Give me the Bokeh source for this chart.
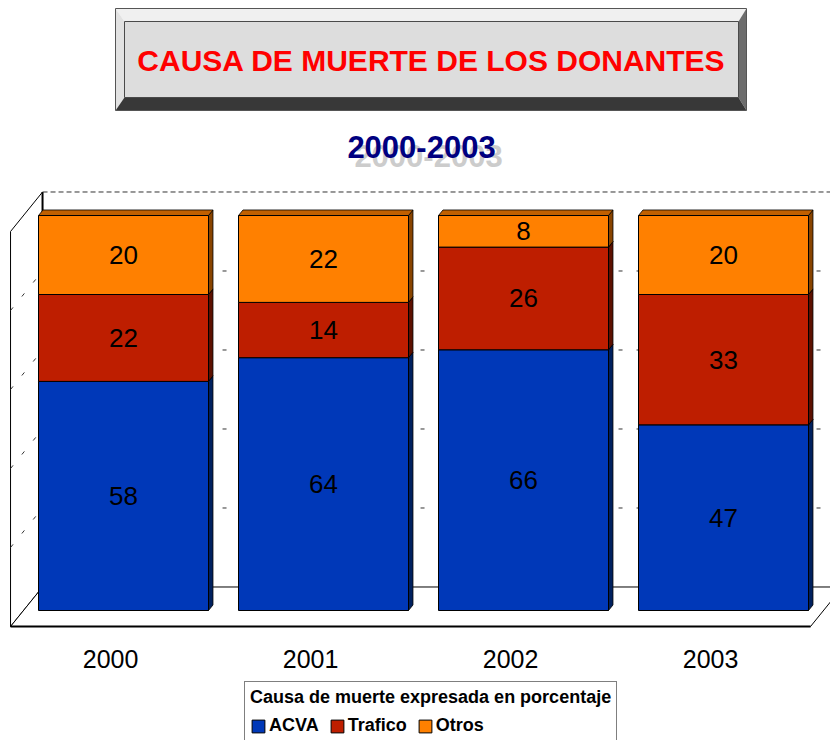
from bokeh.plotting import figure
from bokeh.models import Range1d, Legend, LegendItem
from bokeh.core.properties import value
from bokeh.embed import file_html
from bokeh.resources import INLINE

# ---------------- data ----------------
years = [2000, 2001, 2002, 2003]
year_labels = ["2000", "2001", "2002", "2003"]
acva = [58, 64, 66, 47]
trafico = [22, 14, 26, 33]
otros = [20, 22, 8, 20]
series_names = ["ACVA", "Trafico", "Otros"]
gridlines = [20, 40, 60, 80]
y_max = 100
title_text = "CAUSA DE MUERTE DE LOS DONANTES"
subtitle_text = "2000-2003"
legend_title = "Causa de muerte expresada en porcentaje"

# ---------------- geometry / style ----------------
W, H = 830, 740
PX_X = 200.0          # pixels per year
PX_Y = 3.95           # pixels per percent
XL = years[0] - 123.0 / PX_X     # data x at canvas left
YT = 610.0 / PX_Y                # data y at canvas top
ZREF = 0.405                     # depth of bar front plane
BD = 0.14                        # bar depth
DX, DY = 32.0, 39.5              # full depth vector (px)
BAR_W = 0.85

front_cols = ["#0038B8", "#BE1E00", "#FF8000"]
side_cols = ["#00205E", "#5C1000", "#884400"]
top_cols = ["#002C90", "#8C1600", "#C06000"]
FONT = "Liberation Sans"


def fx(px):
    return XL + px / PX_X


def fy(py):
    return YT - py / PX_Y


def proj(x, y, z):
    return x + (z - ZREF) * DX / PX_X, y + (z - ZREF) * DY / PX_Y


def poly(pts):
    return [q[0] for q in pts], [q[1] for q in pts]


p = figure(width=W, height=H,
           x_range=Range1d(XL, XL + W / PX_X), y_range=Range1d(YT - H / PX_Y, YT),
           min_border=0, min_border_left=0, min_border_right=0,
           min_border_top=0, min_border_bottom=0,
           toolbar_location=None, output_backend="svg",
           x_axis_type=None, y_axis_type=None,
           outline_line_color=None, background_fill_color="white",
           border_fill_color="white")

XA = years[0] - 0.5
XB = years[-1] + 0.5

# side wall
xs, ys = poly([proj(XA, 0, 0), proj(XA, y_max, 0), proj(XA, y_max, 1), proj(XA, 0, 1)])
p.patch(xs, ys, fill_color="white", line_color="black", line_width=1)
# back wall
xs, ys = poly([proj(XA, 0, 1), proj(XA, y_max, 1), proj(XB, y_max, 1), proj(XB, 0, 1)])
p.patch(xs, ys, fill_color="white", line_color=None)
xs, ys = poly([proj(XA, 0, 1), proj(XA, y_max, 1)])
p.line(xs, ys, line_color="black", line_width=2)
xs, ys = poly([proj(XA, y_max, 1), proj(XB, y_max, 1)])
p.line(xs, ys, line_color="#333333", line_width=1, line_dash="5 3")
# floor
xs, ys = poly([proj(XA, 0, 0), proj(XB, 0, 0), proj(XB, 0, 1), proj(XA, 0, 1)])
p.patch(xs, ys, fill_color="white", line_color="black", line_width=1)
xs, ys = poly([proj(XA, 0, 0), proj(XB, 0, 0)])
p.line(xs, ys, line_color="black", line_width=2)

# gridlines (back wall + side wall)
gx, gy = [], []
for g in gridlines:
    a, b = poly([proj(XA, g, 1), proj(XB, g, 1)])
    gx.append(a); gy.append(b)
    a, b = poly([proj(XA, g, 0), proj(XA, g, 1)])
    gx.append(a); gy.append(b)
p.multi_line(gx, gy, line_color="#333333", line_width=1, line_dash="4 14")

# stacked bars
series = [acva, trafico, otros]
bottoms = []
tops = []
acc = [0] * len(years)
for s in series:
    bottoms.append(list(acc))
    acc = [a + v for a, v in zip(acc, s)]
    tops.append(list(acc))

for i in range(len(series)):
    sx, sy, tx, ty = [], [], [], []
    for j, yr in enumerate(years):
        xl, xr = yr - BAR_W / 2, yr + BAR_W / 2
        b, t = bottoms[i][j], tops[i][j]
        a, c = poly([proj(xr, b, ZREF), proj(xr, b, ZREF + BD), proj(xr, t, ZREF + BD), proj(xr, t, ZREF)])
        sx.append(a); sy.append(c)
        a, c = poly([proj(xl, t, ZREF), proj(xr, t, ZREF), proj(xr, t, ZREF + BD), proj(xl, t, ZREF + BD)])
        tx.append(a); ty.append(c)
    p.patches(sx, sy, fill_color=side_cols[i], line_color="black", line_width=0.8)
    p.patches(tx, ty, fill_color=top_cols[i], line_color="black", line_width=0.8)

renderers = []
for i in range(len(series)):
    r = p.vbar(x=years, bottom=bottoms[i], top=tops[i], width=BAR_W,
               fill_color=front_cols[i], line_color="black", line_width=1)
    renderers.append(r)

# value labels
for i, s in enumerate(series):
    mids = [(b + t) / 2 for b, t in zip(bottoms[i], tops[i])]
    p.text(x=years, y=mids, text=[str(v) for v in s],
           text_align="center", text_baseline="middle",
           text_font=value(FONT), text_font_size="26px", text_color="black")

# category labels
cat_x = [proj(yr, 0, 0)[0] for yr in years]
cat_y = [proj(yr, 0, 0)[1] - 33 / PX_Y for yr in years]
p.text(x=cat_x, y=cat_y, text=year_labels, text_align="center", text_baseline="middle",
       text_font=value(FONT), text_font_size="25px", text_color="black")

# title box (bevelled)
OL, OT, OR, OB = 115, 8, 746, 110
IL, IT, IR, IB = 124, 21, 738, 97
bevels = [
    ([OL, OR, IR, IL], [OT, OT, IT, IT], "#F0F0F0"),
    ([OL, IL, IL, OL], [OT, IT, IB, OB], "#E2E2E2"),
    ([OR, OR, IR, IR], [OT, OB, IB, IT], "#6C6C6C"),
    ([OL, OR, IR, IL], [OB, OB, IB, IB], "#383838"),
]
for bx, by, col in bevels:
    p.patch([fx(v) for v in bx], [fy(v) for v in by], fill_color=col, line_color=None)
p.patch([fx(v) for v in [IL, IR, IR, IL]], [fy(v) for v in [IT, IT, IB, IB]],
        fill_color="#DDDDDD", line_color="#4A4A4A", line_width=1)
p.patch([fx(v) for v in [OL, OR, OR, OL]], [fy(v) for v in [OT, OT, OB, OB]],
        fill_color=None, line_color="#555555", line_width=1)
p.text(x=[fx(431)], y=[fy(60)], text=[title_text], text_align="center", text_baseline="middle",
       text_font=value(FONT), text_font_style="bold", text_font_size="30px", text_color="#FF0000")

# subtitle with shadow
p.text(x=[fx(428)], y=[fy(155)], text=[subtitle_text], text_align="center", text_baseline="middle",
       text_font=value(FONT), text_font_style="bold", text_font_size="31px", text_color="#CCCCCC")
p.text(x=[fx(421)], y=[fy(146)], text=[subtitle_text], text_align="center", text_baseline="middle",
       text_font=value(FONT), text_font_style="bold", text_font_size="31px", text_color="#000080")

# legend
legend = Legend(items=[LegendItem(label=n, renderers=[r]) for n, r in zip(series_names, renderers)],
                orientation="horizontal", location=(244, -2), title=legend_title,
                title_text_font=FONT, title_text_font_style="bold", title_text_font_size="18px",
                title_text_color="black", title_standoff=7,
                label_text_font=FONT, label_text_font_style="bold", label_text_font_size="18px",
                label_text_color="black",
                label_standoff=3, glyph_width=16, glyph_height=16, spacing=10, padding=5,
                margin=0, border_line_color="black", border_line_width=1,
                background_fill_color="white", background_fill_alpha=1.0)
p.add_layout(legend, "center")

open("out.html", "w").write(file_html(p, INLINE))
